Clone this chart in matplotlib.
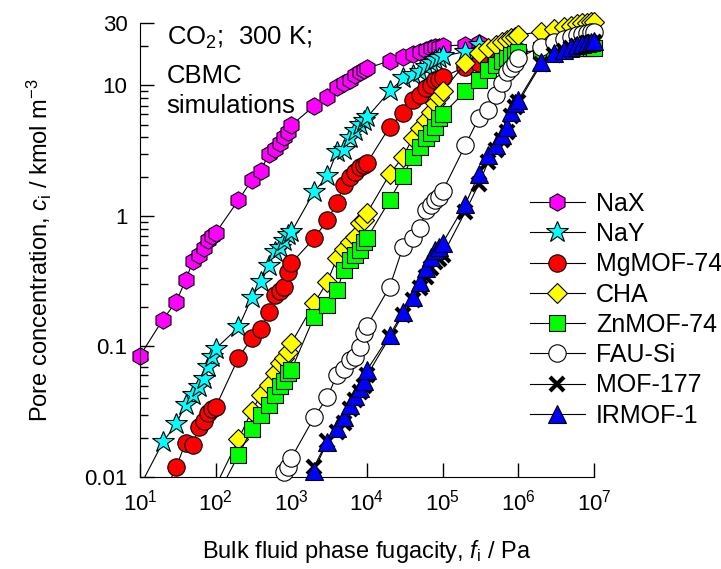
import matplotlib.pyplot as plt
from matplotlib.lines import Line2D
import numpy as np

plt.rcParams['font.family'] = ['Liberation Sans', 'DejaVu Sans']
plt.rcParams['mathtext.fontset'] = 'custom'
plt.rcParams['mathtext.rm'] = 'Liberation Sans'
plt.rcParams['mathtext.it'] = 'Liberation Sans:italic'

# fugacity grid of the CBMC runs, Pa
fug = [1e1, 2e1, 3e1, 4e1, 5e1, 6e1, 7e1, 8e1, 9e1,
       1e2, 2e2, 3e2, 4e2, 5e2, 6e2, 7e2, 8e2, 9e2,
       1e3, 2e3, 3e3, 4e3, 5e3, 6e3, 7e3, 8e3, 9e3,
       1e4, 2e4, 3e4, 4e4, 5e4, 6e4, 7e4, 8e4, 9e4,
       1e5, 2e5, 3e5, 4e5, 5e5, 6e5, 7e5, 8e5, 9e5,
       1e6, 2e6, 3e6, 4e6, 5e6, 6e6, 7e6, 8e6, 9e6,
       1e7]

labels = ['NaX', 'NaY', 'MgMOF-74', 'CHA', 'ZnMOF-74', 'FAU-Si', 'MOF-177', 'IRMOF-1']
# index in fug of the first point of each series
starts = [0, 0, 1, 9, 9, 16, 18, 19]

nax = [0.085, 0.16, 0.22, 0.32, 0.45, 0.50, 0.565, 0.65, 0.70,
       0.74, 1.32, 1.88, 2.22, 3.0, 3.24, 3.6, 4.04, 4.39,
       4.94, 6.94, 8.18, 9.66, 10.35, 11.0, 12.0, 12.7, 13.1,
       13.5, 15.4, 16.6, 17.3, 18.1, 18.6, 19.2, 19.5, 19.8,
       20.0, 20.4, 21.0]
nay = [0.0085, 0.0184, 0.0255, 0.0357, 0.0425, 0.0486, 0.0564, 0.070, 0.083,
       0.096, 0.140, 0.236, 0.313, 0.41, 0.53, 0.57, 0.64, 0.71,
       0.75, 1.53, 2.02, 3.1, 3.2, 3.98, 4.47, 4.97, 5.33,
       5.69, 9.0, 11.3, 12.0, 12.7, 13.9, 14.7, 15.6, 16.2,
       16.7, 18.1, 20.4]
mgmof = [0.007, 0.0119, 0.0182, 0.0176, 0.024, 0.0269, 0.0308, 0.033,
         0.0344, 0.0817, 0.116, 0.136, 0.183, 0.248, 0.267, 0.284, 0.374,
         0.434, 0.673, 0.93, 1.26, 1.73, 1.99, 2.17, 2.37, 2.45,
         2.54, 4.82, 6.1, 7.7, 8.43, 9.5, 10.0, 11.0, 11.2,
         11.5, 13.9, 14.8, 15.3, 15.8, 16.2, 16.7, 17.2, 17.7,
         18.2]
cha = [0.0085, 0.0194, 0.0322, 0.0425, 0.0507, 0.0624, 0.0743, 0.0813, 0.0912,
       0.106, 0.214, 0.313, 0.473, 0.555, 0.634, 0.693, 0.877, 0.93,
       1.05, 2.09, 2.84, 3.93, 4.69, 5.42, 6.28, 7.28, 8.18,
       9.04, 14.7, 17.6, 19.2, 20.4, 21.6, 22.2, 22.9, 23.6,
       24.3, 25.7, 26.8, 27.9, 28.7, 29.3, 29.9, 30.1, 30.4,
       30.5]
znmof = [0.0068, 0.0147, 0.0233, 0.030, 0.0356, 0.0425, 0.0499, 0.0544, 0.0624,
         0.066, 0.169, 0.208, 0.271, 0.385, 0.459, 0.502, 0.548, 0.634,
         0.673, 1.32, 2.02, 2.84, 3.39, 3.93, 4.29, 4.82, 5.59,
         6.0, 9.0, 11.0, 13.0, 14.3, 15.3, 16.3, 17.0, 17.5,
         17.9, 18.5, 18.8, 19.0, 19.1, 19.2, 19.3, 19.3, 19.4,
         19.4]
fausi = [0.011, 0.012,
         0.014, 0.0286, 0.041, 0.0605, 0.0667, 0.0788, 0.0824, 0.0996, 0.126,
         0.1435, 0.287, 0.581, 0.673, 0.803, 1.11, 1.21, 1.32, 1.40,
         1.55, 3.49, 5.62, 6.47, 8.43, 10.35, 12.7, 13.5, 14.8,
         16.1, 19.8, 21.6, 22.6, 23.4, 24.1, 24.6, 25.0, 25.4,
         25.6]
mof177 = [0.006, 0.012, 0.019, 0.022, 0.026, 0.033, 0.039, 0.045, 0.050,
          0.060, 0.118, 0.175, 0.225, 0.28, 0.34, 0.40, 0.44, 0.47,
          0.50, 1.08, 1.75, 2.6, 3.2, 3.8, 4.4, 5.8, 6.8,
          7.4, 14.5, 17.2, 18.3, 19.3, 20.0, 20.5, 20.9, 21.2,
          21.5]
irmof = [0.0112, 0.0187, 0.0237, 0.029, 0.0357, 0.0418, 0.0479, 0.0547,
         0.066, 0.122, 0.185, 0.240, 0.313, 0.397, 0.487, 0.548, 0.58,
         0.62, 1.23, 2.09, 2.92, 3.49, 4.16, 4.82, 6.28, 7.3,
         7.7, 15.0, 17.6, 18.6, 19.6, 20.4, 20.8, 21.1, 21.4,
         21.8]
conc = [nax, nay, mgmof, cha, znmof, fausi, mof177, irmof]

# marker styles
styles = {
    'NaX':      dict(marker='h', ms=12.5, mfc='#ff00ff', mec='k', mew=0.8),
    'NaY':      dict(marker='*', ms=16.5, mfc='#00ffff', mec='k', mew=0.8),
    'MgMOF-74': dict(marker='o', ms=12.5, mfc='#ff0000', mec='k', mew=0.8),
    'CHA':      dict(marker='D', ms=10.5, mfc='#ffff00', mec='k', mew=0.8),
    'ZnMOF-74': dict(marker='s', ms=11, mfc='#00ff00', mec='k', mew=0.8),
    'FAU-Si':   dict(marker='o', ms=12.5, mfc='white', mec='k', mew=0.8),
    'MOF-177':  dict(marker='x', ms=9.5, mfc='k', mec='k', mew=3),
    'IRMOF-1':  dict(marker='^', ms=13, mfc='#0000ff', mec='k', mew=0.8),
}

fig = plt.figure(figsize=(7.21, 5.69), dpi=100)
ax = fig.add_axes([140/721, 1 - 477/569, 454/721, 454/569])

handles = []
for i, (name, start, c) in enumerate(zip(labels, starts, conc)):
    c = np.array(c)
    f = np.array(fug[start:start + len(c)])
    st = styles[name]
    ax.plot(f, c, '-', color='k', lw=0.8, zorder=2 + 2*i)
    keep = c >= 0.01
    ax.plot(f[keep], c[keep], ls='none', clip_on=False, zorder=2.5 + 2*i, **st)
    handles.append(Line2D([], [], color='k', lw=0.8, **st))

ax.set_xscale('log')
ax.set_yscale('log')
ax.set_xlim(10, 1e7)
ax.set_ylim(0.01, 30)

ax.set_xticks([1e1, 1e2, 1e3, 1e4, 1e5, 1e6, 1e7])
ax.set_xticklabels([r'$\mathregular{10^{%d}}$' % k for k in range(1, 8)])
ax.set_yticks([0.01, 0.1, 1, 10, 30])
ax.set_yticklabels(['0.01', '0.1', '1', '10', '30'])

for s in ['top', 'right']:
    ax.spines[s].set_visible(False)
ax.tick_params(which='both', direction='in', labelsize=16)
ax.tick_params(which='major', length=10, width=1)
ax.tick_params(which='minor', length=6, width=1)
ax.tick_params(axis='x', pad=9)
ax.tick_params(axis='y', pad=9)

ax.set_xlabel(r'Bulk fluid phase fugacity, $\mathit{f}_{\mathregular{i}}$ / Pa', fontsize=17)
ax.set_ylabel(r'Pore concentration, $\mathit{c}_{\mathregular{i}}$ / kmol m$^{\mathregular{-3}}$', fontsize=17)
ax.xaxis.set_label_coords(0.5, -0.135)
ax.yaxis.set_label_coords(-0.19, 0.5)

ax.text(0.059, 0.952, r'CO$_{\mathregular{2}}$;  300 K;', transform=ax.transAxes, fontsize=18.5, va='baseline')
ax.text(0.059, 0.868, 'CBMC', transform=ax.transAxes, fontsize=18.5, va='baseline')
ax.text(0.059, 0.802, 'simulations', transform=ax.transAxes, fontsize=18.5, va='baseline')

fig.legend(handles, labels, loc='upper left', bbox_to_anchor=(0.735, 0.663),
           frameon=False, fontsize=18, handlelength=2.2, handletextpad=0.45,
           labelspacing=0.25, borderpad=0, borderaxespad=0)

fig.savefig('out.png', dpi=100)
